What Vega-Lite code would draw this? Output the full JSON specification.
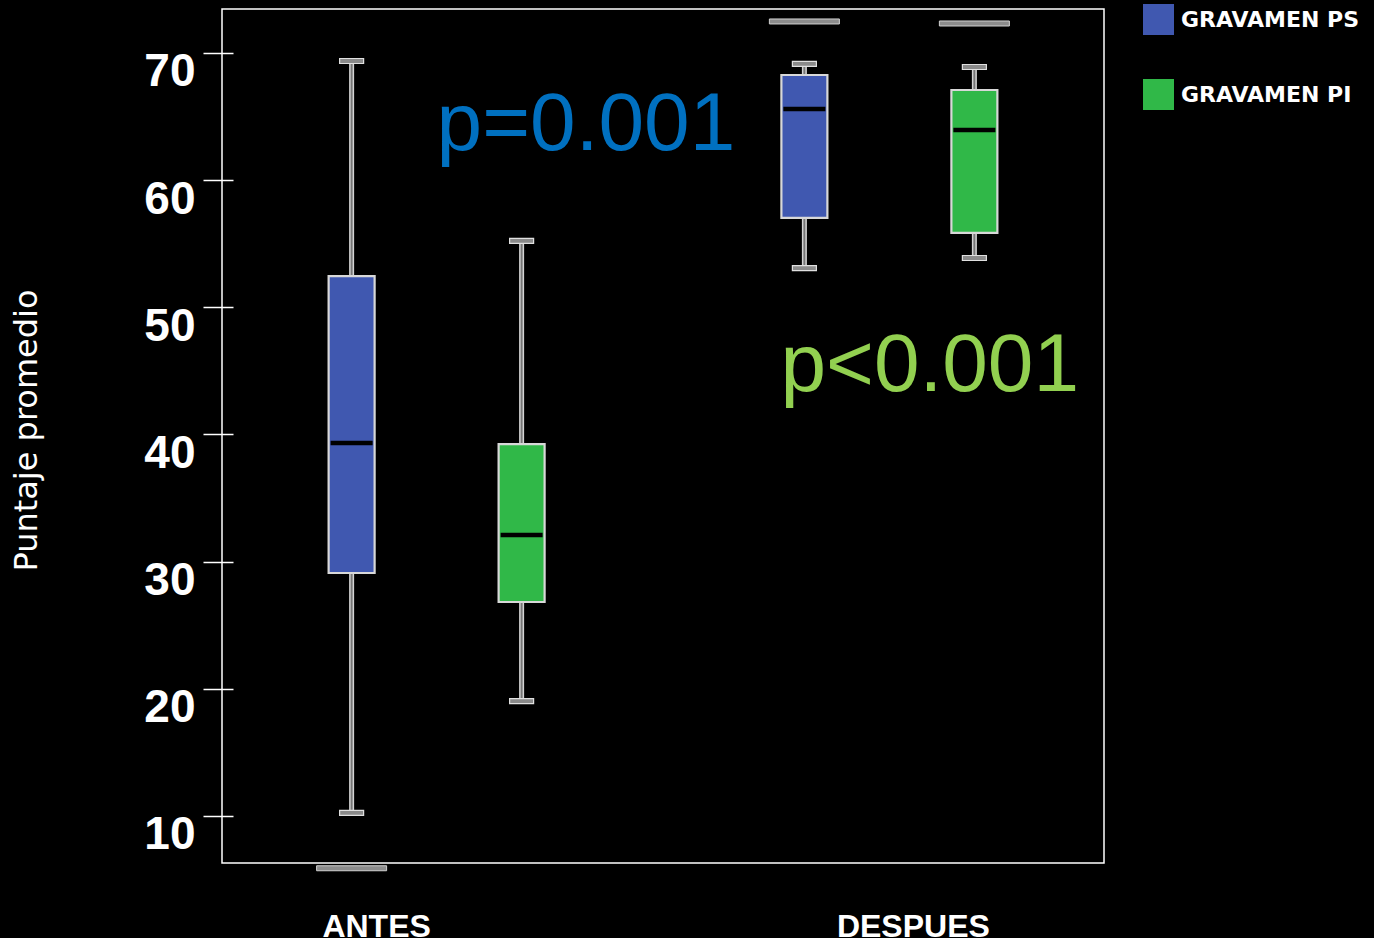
{
  "$schema": "https://vega.github.io/schema/vega-lite/v6.json",
  "autosize": "none",
  "padding": {"left": 222, "top": 9, "right": 270, "bottom": 75},
  "width": 882,
  "height": 854,
  "background": "#000000",
  "config": {
    "view": {"stroke": "#ffffff", "strokeWidth": 1.5},
    "axis": {"grid": false}
  },
  "datasets": {
    "cajas": [
      {"grupo": "ANTES", "gravamen": "GRAVAMEN PS", "bajo": 10.24, "q1": 29.11, "mediana": 39.33, "q3": 52.46, "alto": 69.37},
      {"grupo": "ANTES", "gravamen": "GRAVAMEN PI", "bajo": 19.04, "q1": 26.83, "mediana": 32.10, "q3": 39.25, "alto": 55.22},
      {"grupo": "DESPUES", "gravamen": "GRAVAMEN PS", "bajo": 53.09, "q1": 57.03, "mediana": 65.60, "q3": 68.27, "alto": 69.14},
      {"grupo": "DESPUES", "gravamen": "GRAVAMEN PI", "bajo": 53.88, "q1": 55.85, "mediana": 63.95, "q3": 67.09, "alto": 68.90}
    ],
    "extremos": [
      {"grupo": "ANTES", "gravamen": "GRAVAMEN PS", "valor": 5.89},
      {"grupo": "DESPUES", "gravamen": "GRAVAMEN PS", "valor": 72.48},
      {"grupo": "DESPUES", "gravamen": "GRAVAMEN PI", "valor": 72.32}
    ]
  },
  "layer": [
    {
      "data": {"name": "cajas"},
      "mark": {"type": "rule", "color": "#d4d4d4", "strokeWidth": 5},
      "encoding": {
        "x": {"field": "grupo", "type": "nominal", "scale": {"domain": ["ANTES", "DESPUES"], "paddingInner": 0.052, "paddingOuter": 0},
          "axis": {"title": null, "ticks": false, "tickSize": 0, "domain": false, "labelAngle": 0, "labelFont": "Liberation Sans", "labelFontWeight": "bold", "labelFontSize": 32, "labelColor": "#ffffff", "labelBaseline": "alphabetic", "labelPadding": 73,
            "labelOffset": {"condition": {"test": "datum.value === 'ANTES'", "value": -60}, "value": 24}}},
        "xOffset": {"field": "gravamen", "type": "nominal", "scale": {"domain": ["GRAVAMEN PS", "GRAVAMEN PI"], "paddingInner": 0, "paddingOuter": 0.2625}},
        "y": {"field": "bajo", "type": "quantitative", "scale": {"domain": [6.304, 73.46], "nice": false, "zero": false},
          "axis": {"title": "Puntaje promedio", "values": [10, 20, 30, 40, 50, 60, 70], "offset": -11, "domain": false, "tickSize": 30, "tickColor": "#ffffff", "tickWidth": 1.5,
            "labelFont": "Liberation Sans", "labelFontWeight": "bold", "labelFontSize": 46, "labelColor": "#ffffff", "labelPadding": 8, "labelBaseline": "middle", "labelOffset": 19,
            "titleFont": "DejaVu Sans", "titleFontSize": 32, "titleFontWeight": "normal", "titleColor": "#ffffff", "titleAngle": -90, "titleAlign": "center", "titleBaseline": "alphabetic", "titleX": -197, "titleY": 421}},
        "y2": {"field": "alto"}
      }
    },
    {
      "data": {"name": "cajas"},
      "mark": {"type": "rule", "color": "#767676", "strokeWidth": 2},
      "encoding": {
        "x": {"field": "grupo", "type": "nominal"},
        "xOffset": {"field": "gravamen", "type": "nominal"},
        "y": {"field": "bajo", "type": "quantitative"},
        "y2": {"field": "alto"}
      }
    },
    {
      "data": {"name": "cajas"},
      "mark": {"type": "tick", "orient": "horizontal", "size": 24, "thickness": 5, "fill": "#8a8a8a", "stroke": "#e0e0e0", "strokeWidth": 1.2, "opacity": 1},
      "encoding": {
        "x": {"field": "grupo", "type": "nominal"},
        "xOffset": {"field": "gravamen", "type": "nominal"},
        "y": {"field": "bajo", "type": "quantitative"}
      }
    },
    {
      "data": {"name": "cajas"},
      "mark": {"type": "tick", "orient": "horizontal", "size": 24, "thickness": 5, "fill": "#8a8a8a", "stroke": "#e0e0e0", "strokeWidth": 1.2, "opacity": 1},
      "encoding": {
        "x": {"field": "grupo", "type": "nominal"},
        "xOffset": {"field": "gravamen", "type": "nominal"},
        "y": {"field": "alto", "type": "quantitative"}
      }
    },
    {
      "data": {"name": "cajas"},
      "mark": {"type": "bar", "width": 46, "stroke": "#d8d8d8", "strokeWidth": 2.2},
      "encoding": {
        "x": {"field": "grupo", "type": "nominal"},
        "xOffset": {"field": "gravamen", "type": "nominal"},
        "y": {"field": "q1", "type": "quantitative"},
        "y2": {"field": "q3"},
        "fill": {"field": "gravamen", "type": "nominal", "scale": {"domain": ["GRAVAMEN PS", "GRAVAMEN PI"], "range": ["#4058b0", "#30b848"]},
          "legend": {"title": null, "orient": "none", "legendX": 921, "legendY": -5, "symbolType": "square", "symbolSize": 961, "symbolOpacity": 1, "symbolStrokeWidth": 0,
            "labelFont": "DejaVu Sans", "labelFontWeight": "bold", "labelFontSize": 22, "labelColor": "#ffffff", "labelOffset": 7, "rowPadding": 44, "labelLimit": 400,
            "encode": {"symbols": {"fill": {"signal": "datum.value === 'GRAVAMEN PS' ? '#234a7e' : '#2fcc33'"}}}}}
      }
    },
    {
      "data": {"name": "cajas"},
      "mark": {"type": "tick", "orient": "horizontal", "size": 42, "thickness": 4.5, "color": "#000000", "opacity": 1},
      "encoding": {
        "x": {"field": "grupo", "type": "nominal"},
        "xOffset": {"field": "gravamen", "type": "nominal"},
        "y": {"field": "mediana", "type": "quantitative"}
      }
    },
    {
      "data": {"name": "extremos"},
      "mark": {"type": "tick", "orient": "horizontal", "size": 70, "thickness": 5, "fill": "#8c8c8c", "stroke": "#d0d0d0", "strokeWidth": 1, "opacity": 1, "clip": false},
      "encoding": {
        "x": {"field": "grupo", "type": "nominal"},
        "xOffset": {"field": "gravamen", "type": "nominal"},
        "y": {"field": "valor", "type": "quantitative"}
      }
    },
    {
      "data": {"values": [{}]},
      "mark": {"type": "text", "text": "p=0.001", "font": "Liberation Sans", "fontSize": 82, "color": "#0070c0", "align": "left", "baseline": "alphabetic"},
      "encoding": {
        "x": {"datum": "ANTES", "type": "nominal"},
        "y": {"datum": 62.37, "type": "quantitative"}
      }
    },
    {
      "data": {"values": [{}]},
      "mark": {"type": "text", "text": "p<0.001", "font": "Liberation Sans", "fontSize": 82, "color": "#92d050", "align": "left", "baseline": "alphabetic", "dx": -109},
      "encoding": {
        "x": {"datum": "DESPUES", "type": "nominal"},
        "y": {"datum": 43.42, "type": "quantitative"}
      }
    }
  ]
}
